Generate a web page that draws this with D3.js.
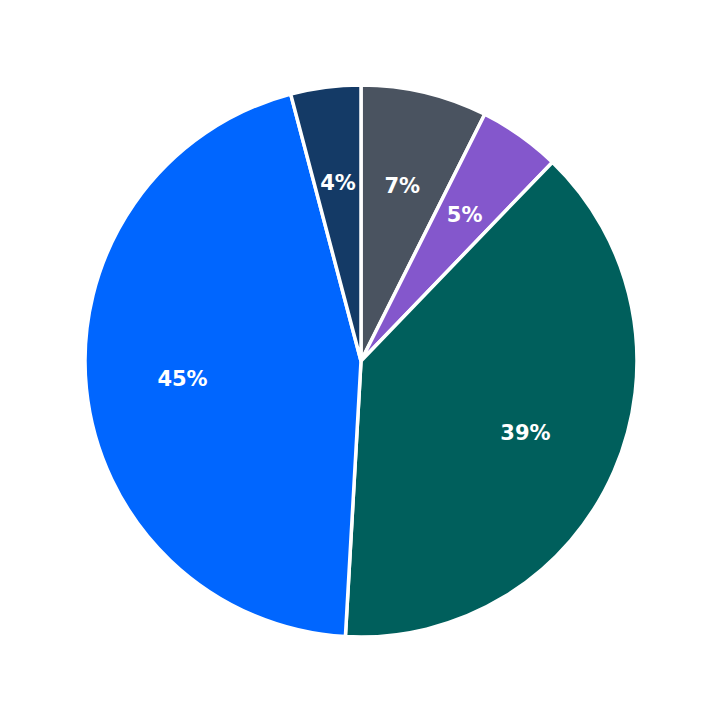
<!DOCTYPE html>
<html><head><meta charset="utf-8">
<script src="https://cdn.jsdelivr.net/npm/d3@7"></script>
<style>body{margin:0;background:#fff}</style></head>
<body><svg id="c" width="723" height="723"></svg>
<script>
const categories = ["A","B","C","D","E"];
const values = [7.4, 4.8, 38.7, 45.0, 4.1];
const labels = ["7%","5%","39%","45%","4%"];
const colors = ["#4a5360","#8457cc","#005f5c","#0066ff","#143a66"];
const svg = d3.select("#c");
const g = svg.append("g").attr("transform","translate(361,361)");
const R = 276;
const pie = d3.pie().sort(null).value(d=>d)(values);
const arc = d3.arc().innerRadius(0).outerRadius(R);
const lab = d3.arc().innerRadius(R*0.65).outerRadius(R*0.65);
g.selectAll("path").data(pie).join("path").attr("d",arc)
 .attr("fill",(d,i)=>colors[i]).attr("stroke","#fff").attr("stroke-width",3.5).attr("stroke-linejoin","round");
g.selectAll("text").data(pie).join("text")
 .attr("transform",d=>`translate(${lab.centroid(d)})`)
 .attr("text-anchor","middle").attr("dominant-baseline","central")
 .attr("font-family","DejaVu Sans").attr("font-weight","bold").attr("font-size",21)
 .attr("fill","#fff").text((d,i)=>labels[i]);
</script></body></html>
